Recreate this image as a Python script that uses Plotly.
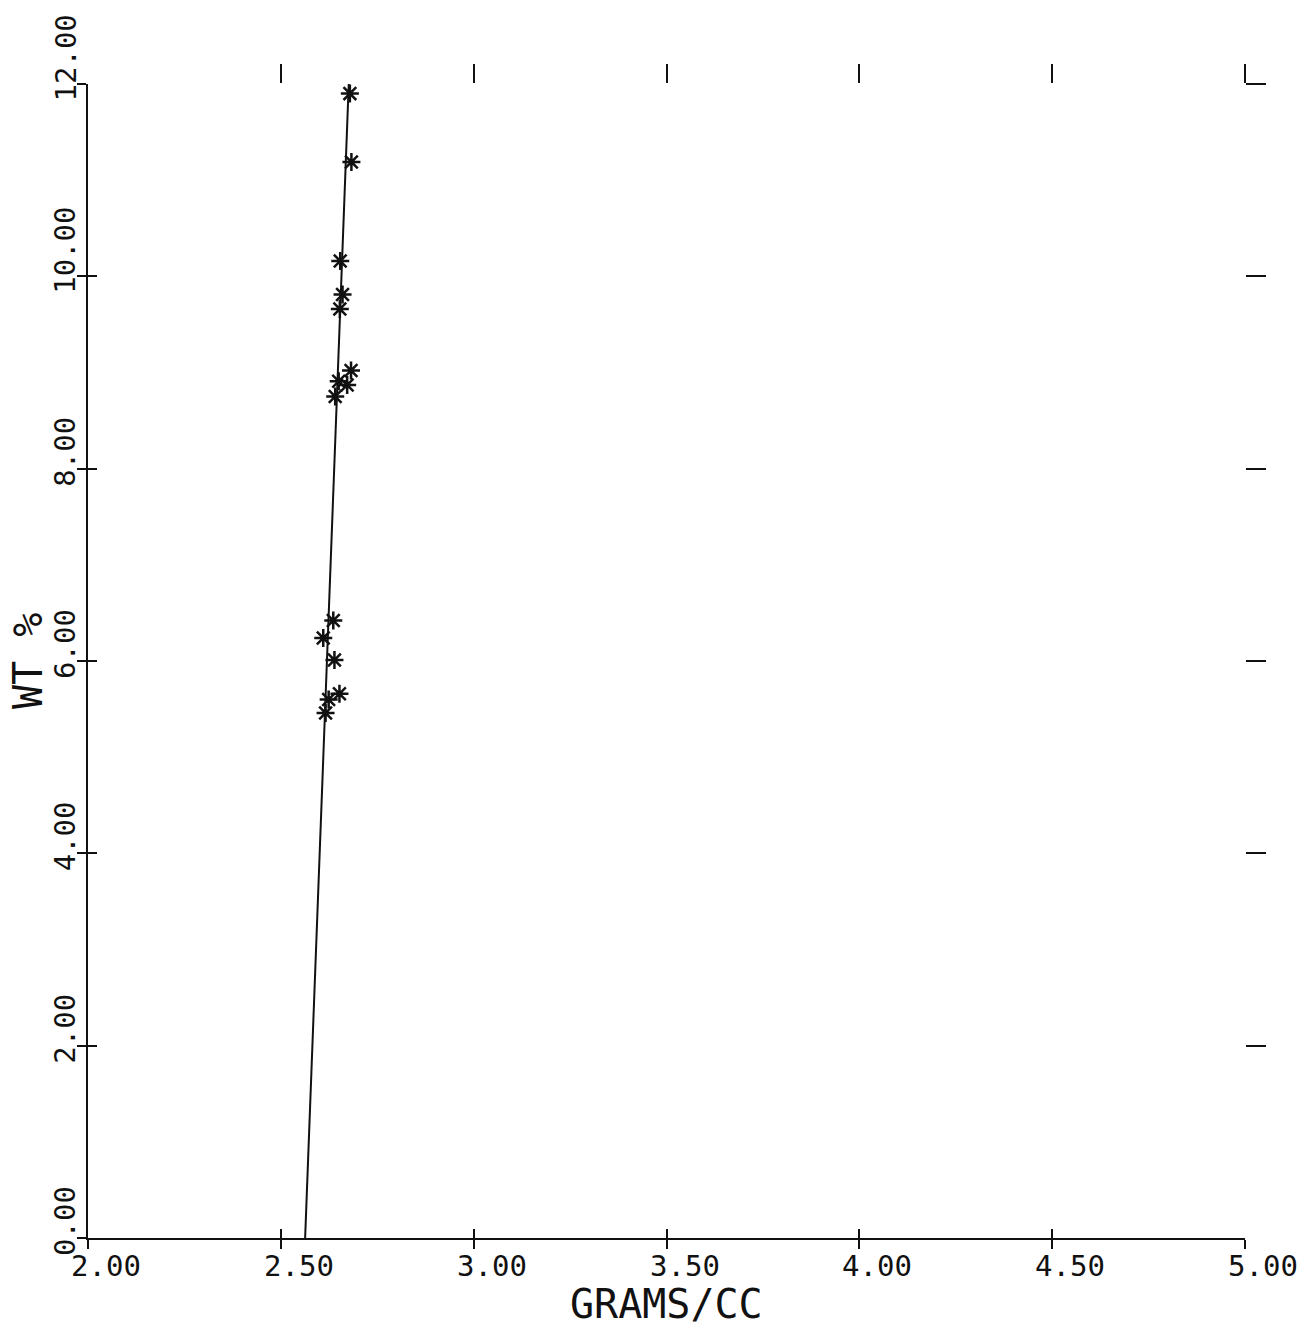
import plotly.graph_objects as go

# Measured data (density in GRAMS/CC vs WT %)
density = [2.679, 2.683, 2.654, 2.660, 2.653, 2.682, 2.650, 2.672, 2.641,
           2.636, 2.610, 2.639, 2.652, 2.624, 2.616]
wt_pct = [11.90, 11.19, 10.16, 9.81, 9.66, 9.02, 8.91, 8.87, 8.75,
          6.42, 6.24, 6.01, 5.66, 5.60, 5.46]

# Fitted line end points
fit_x = [2.563, 2.677]
fit_y = [0.0, 12.1]

# Axis ticks / labels
x_ticks = [2.0, 2.5, 3.0, 3.5, 4.0, 4.5, 5.0]
x_labels = ["2.00", "2.50", "3.00", "3.50", "4.00", "4.50", "5.00"]
y_ticks = [0, 2, 4, 6, 8, 10, 12]
y_labels = ["0.00", "2.00", "4.00", "6.00", "8.00", "10.00", "12.00"]
top_ticks = [2.5, 3.0, 3.5, 4.0, 4.5, 5.0]
right_ticks = [2, 4, 6, 8, 10, 12]

FONT = "DejaVu Sans Mono"
INK = "#111111"

fig = go.Figure()
fig.add_trace(go.Scatter(x=fit_x, y=fit_y, mode="lines",
                         line=dict(color=INK, width=2), hoverinfo="skip"))
fig.add_trace(go.Scatter(x=density, y=wt_pct, mode="markers",
                         marker=dict(symbol="asterisk-open", size=15, color=INK,
                                     line=dict(color=INK, width=2.5)),
                         hoverinfo="skip"))
# dummy traces so the decorative top / right / crossing tick axes are drawn
fig.add_trace(go.Scatter(x=[None], y=[None], xaxis="x2", yaxis="y", hoverinfo="skip"))
fig.add_trace(go.Scatter(x=[None], y=[None], xaxis="x", yaxis="y2", hoverinfo="skip"))
fig.add_trace(go.Scatter(x=[None], y=[None], xaxis="x3", yaxis="y3", hoverinfo="skip"))

ann = []
for v, t in zip(x_ticks, x_labels):
    ann.append(dict(x=v, y=0, xref="x", yref="paper", text=t, showarrow=False,
                    xanchor="left", yanchor="top", xshift=-19, yshift=-9,
                    font=dict(family=FONT, size=29, color=INK)))
for v, t in zip(y_ticks, y_labels):
    ann.append(dict(x=0, y=v, xref="paper", yref="y", text=t, showarrow=False,
                    textangle=-90, xanchor="center", yanchor="bottom",
                    xshift=-23, yshift=-20,
                    font=dict(family=FONT, size=29, color=INK)))
ann.append(dict(x=0.5, y=0, xref="paper", yref="paper", text="GRAMS/CC",
                showarrow=False, xanchor="center", yanchor="top", yshift=-41,
                font=dict(family=FONT, size=40, color=INK)))
ann.append(dict(x=0, y=0.5, xref="paper", yref="paper", text="WT %",
                showarrow=False, textangle=-90, xanchor="center", yanchor="middle",
                xshift=-60, font=dict(family=FONT, size=40, color=INK)))

fig.update_layout(
    width=1309, height=1329,
    margin=dict(l=88, r=64, t=84, b=91),
    paper_bgcolor="white", plot_bgcolor="white",
    showlegend=False,
    annotations=ann,
    xaxis=dict(range=[2, 5], showgrid=False, zeroline=False, showline=True,
               linecolor=INK, linewidth=2, tickmode="array", tickvals=x_ticks,
               ticks="outside", ticklen=9, tickwidth=2, tickcolor=INK,
               showticklabels=False),
    yaxis=dict(range=[0, 12], showgrid=False, zeroline=False, showline=True,
               linecolor=INK, linewidth=2, tickmode="array", tickvals=y_ticks,
               ticks="outside", ticklen=9, tickwidth=2, tickcolor=INK,
               showticklabels=False),
    xaxis2=dict(range=[2, 5], overlaying="x", side="top", anchor="y",
                showgrid=False, zeroline=False, showline=False,
                tickmode="array", tickvals=top_ticks, ticks="outside",
                ticklen=19, tickwidth=2, tickcolor=INK, showticklabels=False),
    yaxis2=dict(range=[0, 12], overlaying="y", side="right", anchor="x",
                showgrid=False, zeroline=False, showline=False,
                tickmode="array", tickvals=right_ticks, ticks="outside",
                ticklen=20, tickwidth=2, tickcolor=INK, showticklabels=False),
    xaxis3=dict(range=[2, 5], overlaying="x", side="bottom", anchor="y3",
                showgrid=False, zeroline=False, showline=False,
                tickmode="array", tickvals=x_ticks, ticks="inside",
                ticklen=9, tickwidth=2, tickcolor=INK, showticklabels=False),
    yaxis3=dict(range=[0, 12], overlaying="y", side="left", anchor="x3",
                showgrid=False, zeroline=False, showline=False,
                tickmode="array", tickvals=y_ticks, ticks="inside",
                ticklen=9, tickwidth=2, tickcolor=INK, showticklabels=False),
)

fig.write_html("out.html")
